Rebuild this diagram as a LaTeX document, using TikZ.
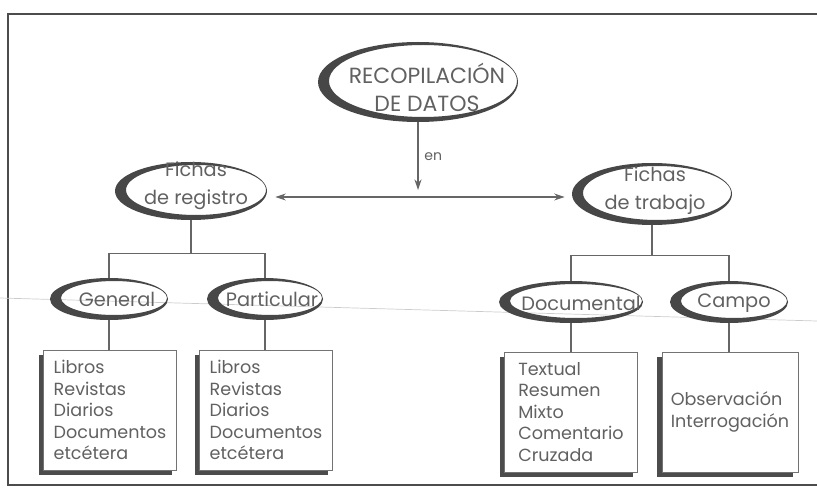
\documentclass[tikz,border=0pt]{standalone}
\usepackage{fontspec}
\setmainfont{Poppins}
\usetikzlibrary{shapes,shadows,arrows.meta}
\tikzset{
	texto/.style = {align=center, text=black!62, font=\fontsize{11}{16}\selectfont},
	caja/.style  = {draw=black!55, fill=white, rectangle, align=left, text=black!62,
		font=\fontsize{10}{12.2}\selectfont, minimum width=2.66cm, minimum height=2.4cm,
		drop shadow={shadow xshift=-2.8pt, shadow yshift=-2.8pt, fill=black!70, opacity=1}},
	linea/.style = {draw=black!60, line width=0.6pt},
	marco/.style = {draw=black!70, line width=0.8pt}
}
% ovalo en media luna: nombre, x, y, radio x, radio y
\newcommand{\ovalo}[5]{%
	\fill[black!72, even odd rule] (#2,#3) ellipse (#4 and #5) (#2+5,#3-1) ellipse (#4-6 and #5-4);
	\node[ellipse, inner sep=0pt, minimum width=#4*0.04cm, minimum height=#5*0.04cm] (#1) at (#2,#3) {};
}

\begin{document}
\begin{tikzpicture}[x=0.02cm, y=-0.02cm, >={Stealth[length=6pt,width=4pt]}]
\useasboundingbox (0,0) rectangle (817,496);
\draw[marco] (830,14) -- (8,14) -- (8,485) -- (830,485);
\draw[black!20, line width=0.4pt] (0,298) -- (817,321);

\ovalo{rd}{418}{82}{100}{40}
\ovalo{fr}{191}{191}{76}{29}
\ovalo{ft}{652}{194}{80}{31}
\ovalo{gen}{109}{299}{59}{21}
\ovalo{par}{265}{299}{58}{21}
\ovalo{doc}{571}{302}{72}{21}
\ovalo{cam}{729}{302}{59}{21}

\draw
node at (427,87) [texto, font=\fontsize{12.5}{16}\selectfont] (t0) {RECOPILACIÓN\\DE DATOS}
node at (196,186) [texto] (t1) {Fichas\\de registro}
node at (655,191) [texto] (t2) {Fichas\\de trabajo}
node at (117,299) [texto] (t3) {General}
node at (272,299) [texto] (t4) {Particular}
node at (581,303) [texto] (t5) {Documental}
node at (734,303) [texto] (t6) {Campo}
node at (110,410) [caja] (c1) {Libros\\Revistas\\Diarios\\Documentos\\etcétera}
node at (266,410) [caja] (c2) {Libros\\Revistas\\Diarios\\Documentos\\etcétera}
node at (571,412) [caja] (c3) {Textual\\Resumen\\Mixto\\Comentario\\Cruzada}
node at (730,412) [caja, minimum width=2.72cm] (c4) {Observación\\Interrogación};

\coordinate (en) at (418,190);
\draw[linea,->] (rd.south) -- node[right, texto, font=\fontsize{8}{9}\selectfont]{en} (en);
\draw[linea,<->] ([shift={(8,6)}]fr.east) -- ([shift={(-7,3)}]ft.west);

\draw[linea] (fr.south) -- ++(0,33) coordinate (j1);
\draw[linea] (gen.north) |- (j1) -| (par.north);
\draw[linea] (ft.south) -- ++(0,30) coordinate (j2);
\draw[linea] (doc.north) |- (j2) -| (cam.north);

\draw[linea] (gen.south) -- (gen.south |- c1.north);
\draw[linea] (par.south) -- (par.south |- c2.north);
\draw[linea] (doc.south) -- (doc.south |- c3.north);
\draw[linea] (cam.south) -- (cam.south |- c4.north);
\end{tikzpicture}
\end{document}
